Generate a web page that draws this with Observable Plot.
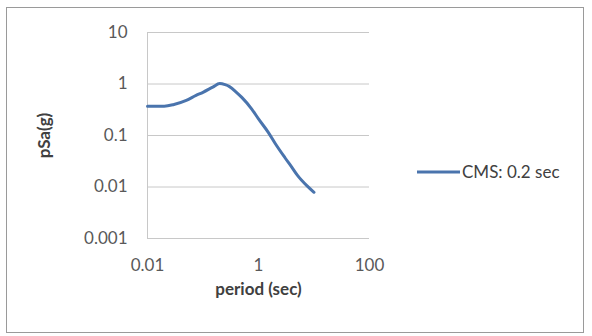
<!DOCTYPE html>
<html><head><meta charset="utf-8">
<script src="https://cdn.jsdelivr.net/npm/d3@7"></script>
<script src="https://cdn.jsdelivr.net/npm/@observablehq/plot@0.6"></script>
<style>
html,body{margin:0;padding:0;background:#fff;}
#wrap{position:relative;width:592px;height:336px;overflow:hidden;}
#border{position:absolute;left:6px;top:7px;width:578px;height:326px;border:1px solid #9a9a9a;box-sizing:border-box;pointer-events:none;}
</style></head><body>
<div id="wrap"><div id="border"></div></div>
<script>
// period (sec)
const periods = [0.01, 0.02, 0.03, 0.05, 0.075, 0.1, 0.15, 0.2, 0.25, 0.3, 0.4, 0.5, 0.75, 1, 1.5, 2, 3, 4, 5, 7.5, 10];
// pSa (g)
const psa = [0.37, 0.37, 0.40, 0.48, 0.60, 0.69, 0.87, 1.02, 0.97, 0.89, 0.69, 0.55, 0.33, 0.21, 0.115, 0.07, 0.037, 0.024, 0.017, 0.0105, 0.0079];
const xTicks = [0.01, 1, 100];
const yTicks = [0.001, 0.01, 0.1, 1, 10];
const seriesName = "CMS: 0.2 sec";
const xTitle = "period (sec)";
const yTitle = "pSa(g)";

const data = periods.map((p, i) => ({period: p, psa: psa[i]}));
const lineColor = "#4a74ad";
const font = "Lato, 'Open Sans', sans-serif";

const chart = Plot.plot({
  width: 592,
  height: 336,
  marginLeft: 147,
  marginRight: 223,
  marginTop: 32,
  marginBottom: 98,
  style: {fontFamily: font, fontSize: "17px", color: "#595959", background: "transparent"},
  x: {type: "log", domain: [0.01, 100], ticks: xTicks, tickFormat: d => String(d)},
  y: {type: "log", domain: [0.001, 10], ticks: yTicks, tickFormat: d => String(d)},
  marks: [
    Plot.gridY(yTicks, {stroke: "#c8c8c8", strokeOpacity: 1, strokeWidth: 1}),
    Plot.ruleX([0.01], {stroke: "#c8c8c8", strokeWidth: 1}),
    Plot.axisY({ticks: yTicks, tickSize: 0, tickPadding: 20, tickFormat: d => String(d),
      label: yTitle, labelAnchor: "center", labelArrow: "none", labelOffset: 110}),
    Plot.axisX({ticks: xTicks, tickSize: 0, tickPadding: 20, tickFormat: d => String(d),
      label: null}),
    Plot.text([xTitle], {frameAnchor: "bottom", dy: 56, fontWeight: "bold", fill: "#404040", fontSize: 17}),
    Plot.line(data, {x: "period", y: "psa", stroke: lineColor, strokeWidth: 3, curve: "monotone-x"})
  ]
});
document.getElementById("wrap").prepend(chart);

const svg = d3.select(chart);
svg.selectAll("[aria-label='y-axis label'] text").attr("font-weight", "bold").attr("fill", "#404040");
const lg = svg.append("g").attr("aria-label", "legend");
lg.append("line").attr("x1", 417).attr("x2", 460).attr("y1", 172).attr("y2", 172)
  .attr("stroke", lineColor).attr("stroke-width", 3);
lg.append("text").attr("x", 462).attr("y", 172).attr("dy", "0.35em").attr("text-anchor", "start")
  .attr("font-family", font).attr("font-size", 17).attr("fill", "#404040").text(seriesName);
</script>
</body></html>
